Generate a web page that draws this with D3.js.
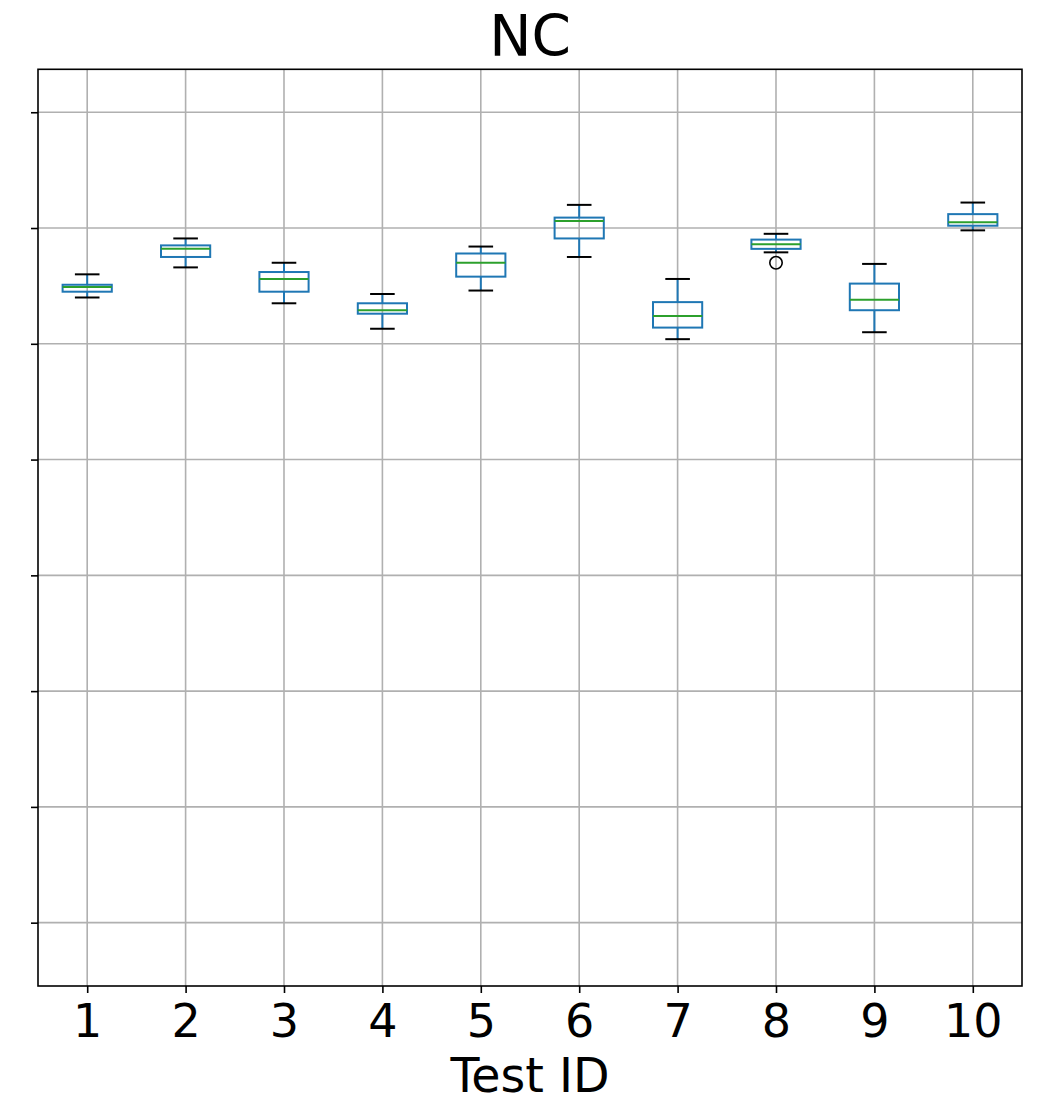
<!DOCTYPE html>
<html>
<head>
<meta charset="utf-8">
<script src="https://cdn.jsdelivr.net/npm/d3@7"></script>
<style>
  html, body { margin: 0; padding: 0; background: #fff; }
  svg text { font-family: "DejaVu Sans", sans-serif; fill: #000; }
</style>
</head>
<body>
<svg id="chart" width="1051" height="1102"></svg>
<script>
// Test IDs along the x axis
const testIds = [1, 2, 3, 4, 5, 6, 7, 8, 9, 10];
// Five-number summaries per test (whisker low, Q1, median, Q3, whisker high)
const whiskerLow  = [0.840, 0.866, 0.835, 0.813, 0.846, 0.875, 0.804, 0.879, 0.810, 0.898];
const q1          = [0.845, 0.875, 0.845, 0.826, 0.858, 0.891, 0.814, 0.882, 0.829, 0.902];
const medians     = [0.849, 0.882, 0.856, 0.829, 0.870, 0.906, 0.824, 0.886, 0.838, 0.905];
const q3          = [0.851, 0.885, 0.862, 0.835, 0.878, 0.909, 0.836, 0.890, 0.852, 0.912];
const whiskerHigh = [0.860, 0.891, 0.870, 0.843, 0.884, 0.920, 0.856, 0.895, 0.869, 0.922];
// Outlying points: [test id, value]
const outliers = [[8, 0.870]];
// Y grid/tick positions (labels are hidden)
const yTicks = [0.3, 0.4, 0.5, 0.6, 0.7, 0.8, 0.9, 1.0];

const svg = d3.select("#chart");
const plotLeft = 38, plotRight = 1022, plotTop = 69.3, plotBottom = 986;

const x = d3.scaleLinear().domain([0.5, 10.5]).range([plotLeft, plotRight]);
const y = d3.scaleLinear().domain([0.2453, 1.0371]).range([plotBottom, plotTop]);

const blue = "#1f77b4", green = "#2ca02c";
const boxHalf = 0.25, capHalf = 0.125;

// grid
const grid = svg.append("g").attr("stroke", "#b0b0b0").attr("stroke-width", 1.6);
grid.selectAll("line.gx").data(testIds).join("line").attr("class", "gx")
  .attr("x1", d => x(d)).attr("x2", d => x(d))
  .attr("y1", plotTop).attr("y2", plotBottom);
grid.selectAll("line.gy").data(yTicks).join("line").attr("class", "gy")
  .attr("x1", plotLeft).attr("x2", plotRight)
  .attr("y1", d => y(d)).attr("y2", d => y(d));

// boxes
const stats = testIds.map((id, i) => ({
  id, lo: whiskerLow[i], q1: q1[i], med: medians[i], q3: q3[i], hi: whiskerHigh[i]
}));
const g = svg.append("g").attr("fill", "none").attr("stroke-width", 2);
const box = g.selectAll("g.box").data(stats).join("g").attr("class", "box");

box.append("line").attr("stroke", blue)
  .attr("x1", d => x(d.id)).attr("x2", d => x(d.id))
  .attr("y1", d => y(d.q3)).attr("y2", d => y(d.hi));
box.append("line").attr("stroke", blue)
  .attr("x1", d => x(d.id)).attr("x2", d => x(d.id))
  .attr("y1", d => y(d.q1)).attr("y2", d => y(d.lo));
box.append("line").attr("stroke", "#000")
  .attr("x1", d => x(d.id - capHalf)).attr("x2", d => x(d.id + capHalf))
  .attr("y1", d => y(d.hi)).attr("y2", d => y(d.hi));
box.append("line").attr("stroke", "#000")
  .attr("x1", d => x(d.id - capHalf)).attr("x2", d => x(d.id + capHalf))
  .attr("y1", d => y(d.lo)).attr("y2", d => y(d.lo));
box.append("rect").attr("stroke", blue)
  .attr("x", d => x(d.id - boxHalf))
  .attr("width", d => x(d.id + boxHalf) - x(d.id - boxHalf))
  .attr("y", d => y(d.q3))
  .attr("height", d => y(d.q1) - y(d.q3));
box.append("line").attr("stroke", green)
  .attr("x1", d => x(d.id - boxHalf)).attr("x2", d => x(d.id + boxHalf))
  .attr("y1", d => y(d.med)).attr("y2", d => y(d.med));

g.selectAll("circle").data(outliers).join("circle")
  .attr("cx", d => x(d[0])).attr("cy", d => y(d[1]))
  .attr("r", 6.2).attr("stroke", "#000").attr("stroke-width", 1.6);

// axes
const xAxis = svg.append("g").attr("transform", `translate(0,${plotBottom})`)
  .call(d3.axisBottom(x).tickValues(testIds).tickSize(7).tickPadding(8).tickFormat(d3.format("d")));
xAxis.select(".domain").remove();
xAxis.selectAll(".tick line").attr("stroke", "#000").attr("stroke-width", 1.6);
xAxis.selectAll(".tick text").style("font-size", "46px").attr("fill", "#000")
  .attr("dy", null).attr("y", 50.5);

const yAxis = svg.append("g").attr("transform", `translate(${plotLeft},0)`)
  .call(d3.axisLeft(y).tickValues(yTicks).tickSize(7).tickFormat(""));
yAxis.select(".domain").remove();
yAxis.selectAll(".tick line").attr("stroke", "#000").attr("stroke-width", 1.6);

// frame
svg.append("rect").attr("x", plotLeft).attr("y", plotTop)
  .attr("width", plotRight - plotLeft).attr("height", plotBottom - plotTop)
  .attr("fill", "none").attr("stroke", "#000").attr("stroke-width", 1.6);

// titles
svg.append("text").attr("x", (plotLeft + plotRight) / 2).attr("y", 56)
  .attr("text-anchor", "middle").style("font-size", "56.5px").text("NC");
svg.append("text").attr("x", (plotLeft + plotRight) / 2).attr("y", 1091.5)
  .attr("text-anchor", "middle").style("font-size", "47.5px").text("Test ID");
</script>
</body>
</html>
